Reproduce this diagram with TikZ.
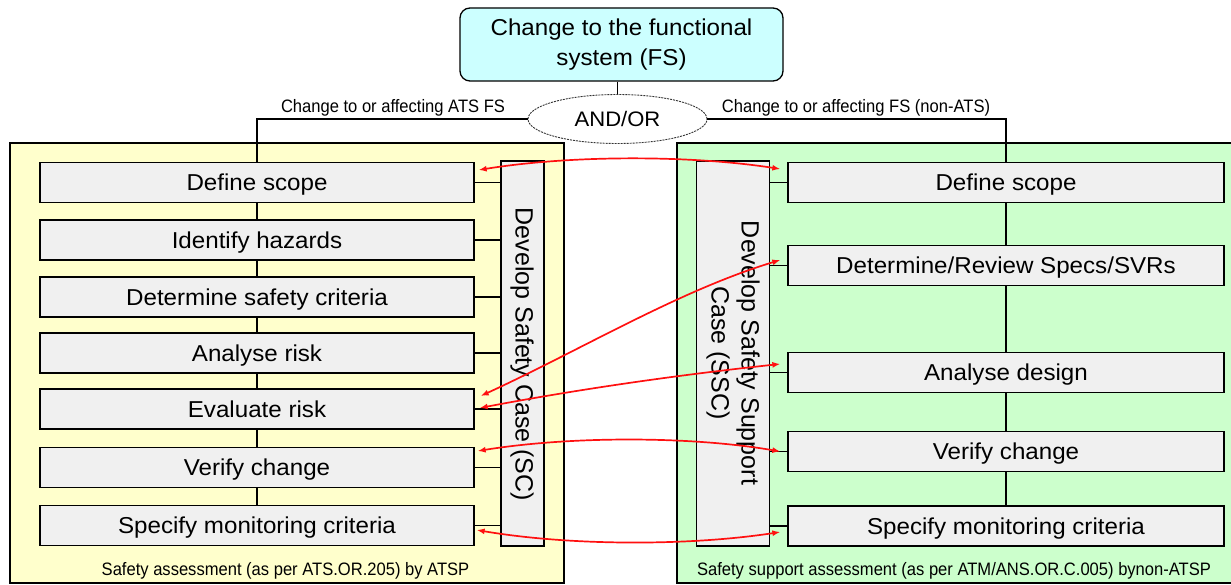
\documentclass[tikz,border=0pt]{standalone}
\usepackage{fontspec}
\setmainfont{Liberation Sans}[FakeStretch=1.05]
\newfontfamily\labfont{Liberation Sans}[FakeStretch=0.92]
\newfontfamily\rotfont{Liberation Sans}
\usetikzlibrary{shapes.geometric,arrows.meta,calc}
\definecolor{cyanfill}{HTML}{CCFFFF}
\definecolor{yellowfill}{HTML}{FFFFCC}
\definecolor{greenfill}{HTML}{CCFFCC}
\definecolor{boxgray}{HTML}{F0F0F0}
\definecolor{arrred}{HTML}{FF1010}
\begin{document}
\begin{tikzpicture}[x=1pt,y=-1pt,
  panel/.style={draw=black, line width=1.3pt, inner sep=0pt, minimum height=440pt},
  stepbox/.style={draw=black, line width=1.3pt, fill=boxgray, inner sep=0pt,
    minimum height=40pt, text height=16.5pt, text depth=0pt,
    font=\fontsize{23}{27}\selectfont},
  lbox/.style={stepbox, minimum width=434pt},
  rbox/.style={stepbox, minimum width=436pt},
  casebox/.style={draw=black, line width=1.3pt, fill=boxgray, inner sep=0pt, minimum height=385pt},
  conn/.style={draw=black, line width=1.3pt},
  labeltext/.style={inner sep=0pt, font=\labfont\fontsize{18}{20}\selectfont},
  rottext/.style={rotate=-90, inner sep=0pt, align=center, font=\rotfont\fontsize{25}{30}\selectfont},
  redarrow/.style={draw=arrred, line width=1.7pt,
    {Latex[length=8pt,width=6pt]}-{Latex[length=8pt,width=6pt]}}
]
\useasboundingbox (0,0) rectangle (1231,585);

% panels
\node[panel, fill=yellowfill, minimum width=554pt] (PL) at (287,363) {};
\node[panel, fill=greenfill, minimum width=563pt] (PR) at (958.5,363) {};

% top box and ellipse
\node[rounded corners=10pt, draw=black, line width=1.3pt, fill=cyanfill,
  minimum width=323pt, minimum height=73pt, align=center, inner sep=0pt,
  font=\fontsize{23}{30}\selectfont] (top) at (621.5,44.5)
  {Change to the functional\\system (FS)};
\node[ellipse, draw=black!80, dash pattern=on 2pt off 1pt, line width=0.9pt, fill=white,
  minimum width=179pt, minimum height=49pt, inner sep=0pt,
  font=\fontsize{21}{24}\selectfont] (ell) at (617.5,119) {AND/OR};

% left boxes
\node[lbox] (L1) at (257,182.5) {Define scope};
\node[lbox] (L2) at (257,240) {Identify hazards};
\node[lbox] (L3) at (257,297) {Determine safety criteria};
\node[lbox] (L4) at (257,353) {Analyse risk};
\node[lbox] (L5) at (257,409) {Evaluate risk};
\node[lbox] (L6) at (257,467.5) {Verify change};
\node[lbox] (L7) at (257,525.5) {Specify monitoring criteria};
\node[casebox, minimum width=43pt] (SC) at (522.5,353.5) {};
\node[rottext] (SCt) at (522,354.5) {Develop Safety Case (SC)};

% right boxes
\node[rbox] (R1) at (1006,182.5) {Define scope};
\node[rbox] (R2) at (1006,265.5) {Determine/Review Specs/SVRs};
\node[rbox] (R3) at (1006,372.5) {Analyse design};
\node[rbox] (R4) at (1006,451.5) {Verify change};
\node[rbox] (R5) at (1006,526) {Specify monitoring criteria};
\node[casebox, minimum width=73pt] (SSC) at (733,353.5) {};
\node[rottext] (SSCt) at (733,353) {Develop Safety Support\\Case (SSC)};

% connectors
\draw[conn] (ell.north |- top.south) -- (ell.north);
\draw[conn] (ell.west) -| (L1.north);
\draw[conn] (ell.east) -| (R1.north);
\foreach \a/\b in {L1/L2,L2/L3,L3/L4,L4/L5,L5/L6,L6/L7,R1/R2,R2/R3,R3/R4,R4/R5}
  \draw[conn] (\a.south) -- (\b.north);
\foreach \a in {L1,L2,L3,L4,L5,L6,L7}
  \draw[conn] (\a.east) -- (\a.east -| SC.west);
\foreach \a in {R1,R2,R3,R4,R5}
  \draw[conn] (\a.west) -- (\a.west -| SSC.east);

% labels
\node[labeltext, anchor=base] (labL) at (393,113) {Change to or affecting ATS FS};
\node[labeltext, anchor=base] (labR) at (856,113) {Change to or affecting FS (non-ATS)};
\node[labeltext, anchor=base] (botL) at (285.5,575) {Safety assessment (as per ATS.OR.205) by ATSP};
\node[labeltext, anchor=base] (botR) at (954,575) {Safety support assessment (as per ATM/ANS.OR.C.005) bynon-ATSP};

% red arrows
\draw[redarrow] ([shift={(4,-12.5)}]L1.east) .. controls +(92,-15) and +(-90,-14) .. ([shift={(-7,-13.5)}]R1.west);
\draw[redarrow] ([shift={(6,-13)}]L5.east) .. controls +(100,-46) and +(-100,30) .. ([shift={(-7,-5.5)}]R2.west);
\draw[redarrow] ([shift={(5,-1)}]L5.east) .. controls +(100,-19) and +(-100,10.7) .. ([shift={(-7,-8.5)}]R3.west);
\draw[redarrow] ([shift={(3,-16.5)}]L6.east) .. controls +(93,-15) and +(-90,-15.5) .. ([shift={(-7,0)}]R4.west);
\draw[redarrow] ([shift={(2,4.5)}]L7.east) .. controls +(94,16) and +(-91,14) .. ([shift={(-7,6)}]R5.west);
\end{tikzpicture}
\end{document}
